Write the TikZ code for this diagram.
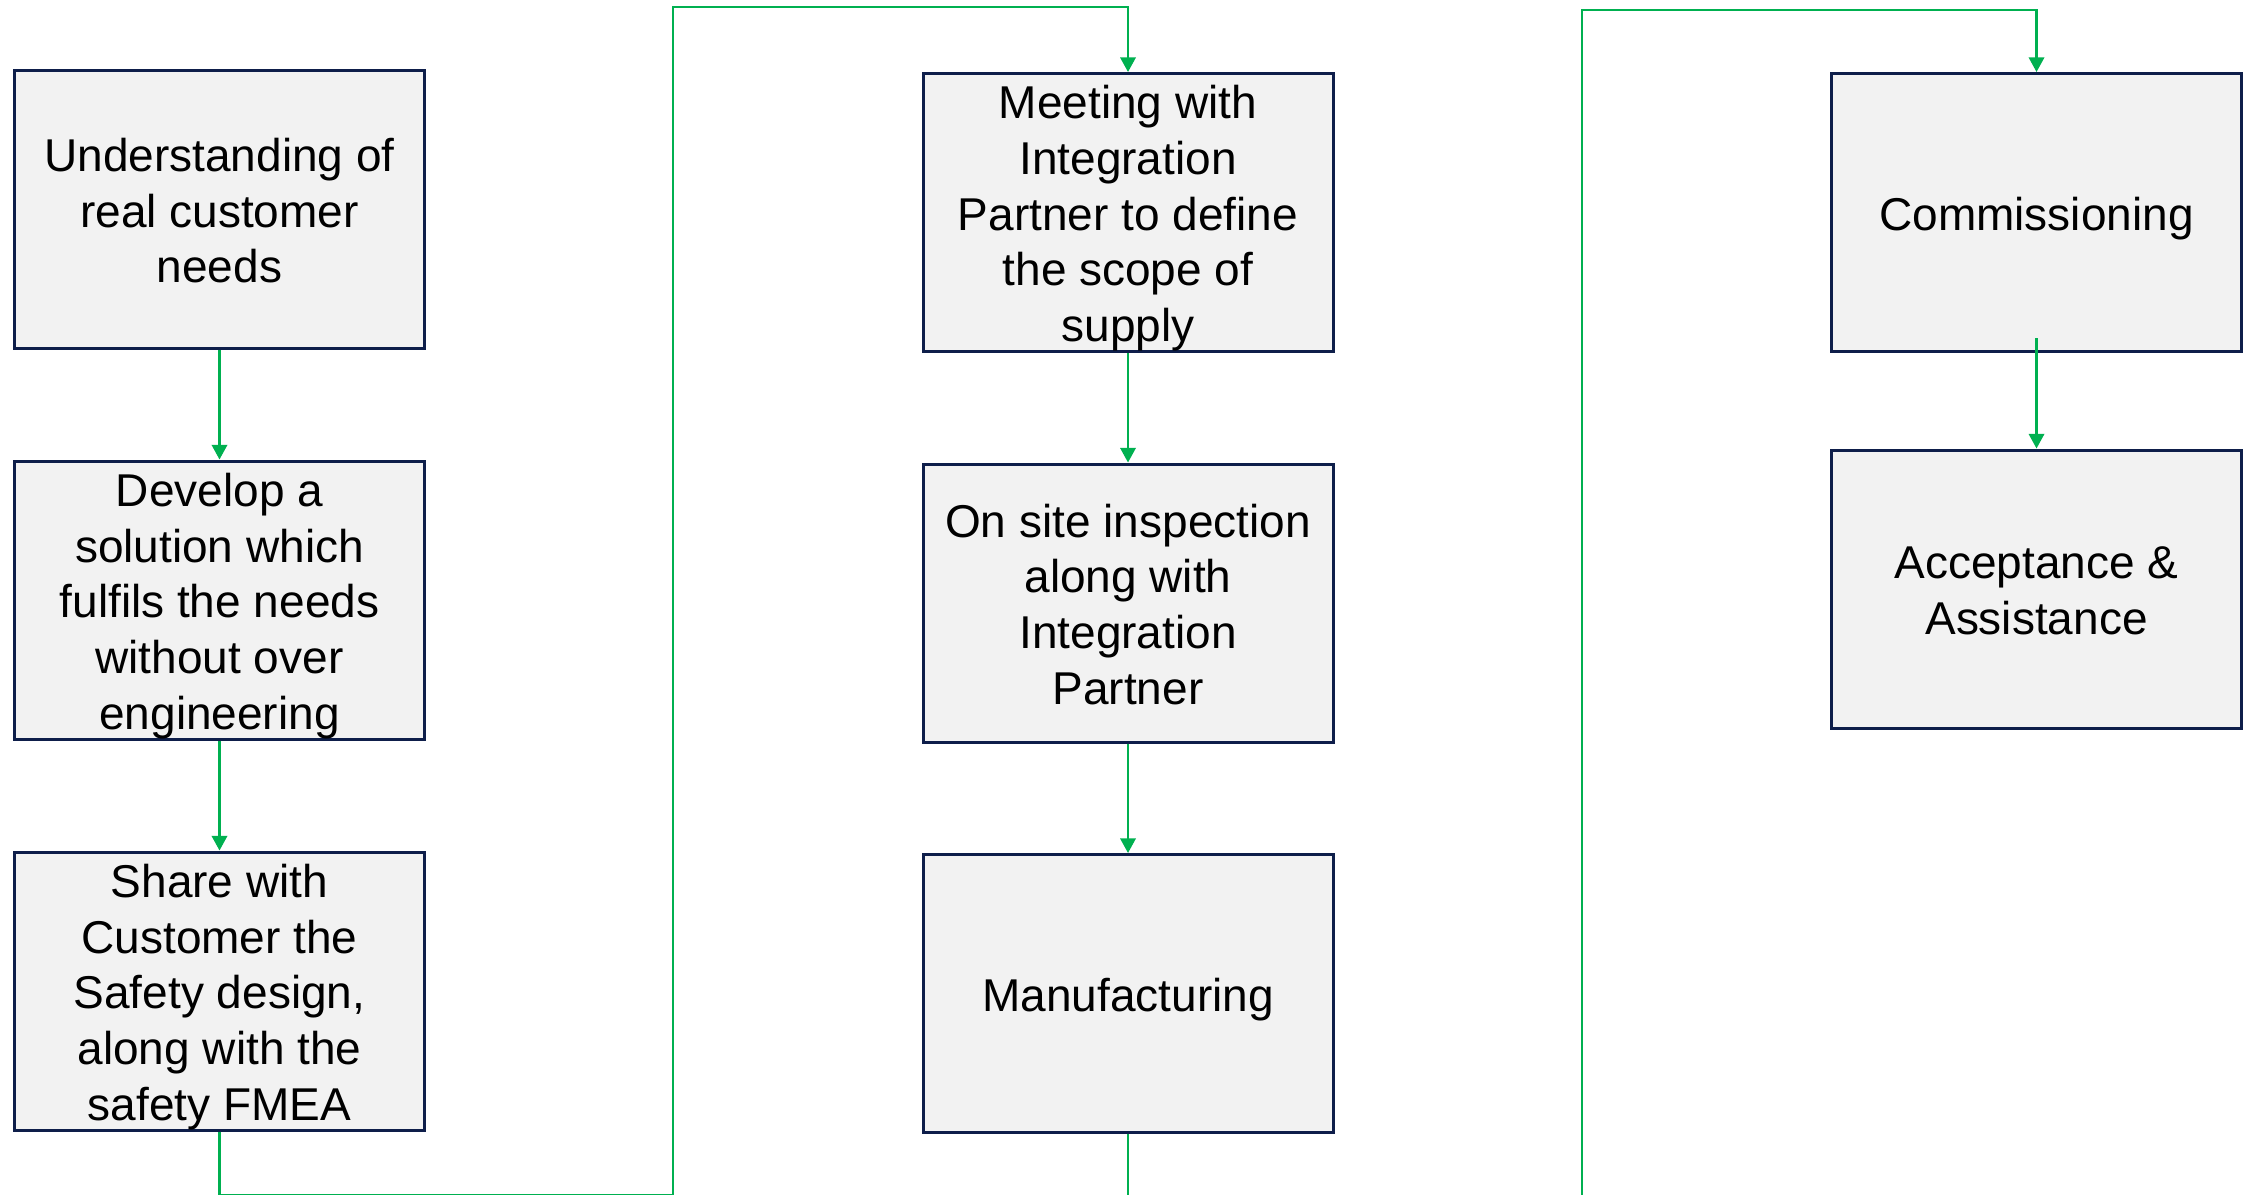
\documentclass[tikz,border=0pt]{standalone}
\usepackage{fontspec}
\setmainfont{Liberation Sans}
\usetikzlibrary{arrows.meta,calc}
\definecolor{boxfill}{HTML}{F2F2F2}
\definecolor{boxline}{RGB}{14,30,74}
\definecolor{flowgreen}{HTML}{00B050}
% fixed top and bottom struts so every label sits at the same height in its box
\newcommand\steptext[1]{\rule{0pt}{13.5pt}#1\rule[-2.9pt]{0pt}{2.9pt}}
\begin{document}
\begin{tikzpicture}[x=0.3pt,y=-0.3pt,
  stepbox/.style={draw=boxline,line width=0.9pt,fill=boxfill,
    minimum width=123pt,minimum height=83.4pt,inner sep=0pt,
    align=center,font=\fontsize{13.8}{16.7}\selectfont},
  flow/.style={draw=flowgreen,line width=0.75pt,
    -{Triangle[width=4.6pt,length=4.4pt]}}]
\useasboundingbox (0,0) rectangle (2243,1194);
\clip (0,0) rectangle (2243,1194);

% first column
\node[stepbox] (c1a) at (219.5,209.5) {\steptext{Understanding of\\real customer\\needs}};
\node[stepbox] (c1b) at (219.5,600) {\steptext{Develop a\\solution which\\fulfils the needs\\without over\\engineering}};
\node[stepbox] (c1c) at (219.5,991) {\steptext{Share with\\Customer the\\Safety design,\\along with the\\safety FMEA}};

% second column
\node[stepbox] (c2a) at (1128,212.5) {\steptext{Meeting with\\Integration\\Partner to define\\the scope of\\supply}};
\node[stepbox] (c2b) at (1128,603) {\steptext{On site inspection\\along with\\Integration\\Partner}};
\node[stepbox] (c2c) at (1128,993.5) {\steptext{Manufacturing}};

% third column
\node[stepbox] (c3a) at (2036.5,212.5) {\steptext{Commissioning}};
\node[stepbox] (c3b) at (2036.5,589) {\steptext{Acceptance \&\\Assistance}};

% turning points of the column-to-column links
\coordinate (b1) at (673,1195.5);
\coordinate (t1) at (673,7);
\coordinate (b2) at (1582,1240);
\coordinate (t2) at (1582,10);

% links inside the columns
\draw[flow] (c1a.south) -- (c1b.north);
\draw[flow] (c1b.south) -- (c1c.north);
\draw[flow] (c2a.south) -- (c2b.north);
\draw[flow] (c2b.south) -- (c2c.north);
\draw[flow] ($(c3a.south)+(0,-15)$) -- (c3b.north);

% links between the columns
\draw[flow] (c1c.south) |- (b1) -- (t1) -| (c2a.north);
\draw[flow] (c2c.south) |- (b2) -- (t2) -| (c3a.north);
\end{tikzpicture}
\end{document}
